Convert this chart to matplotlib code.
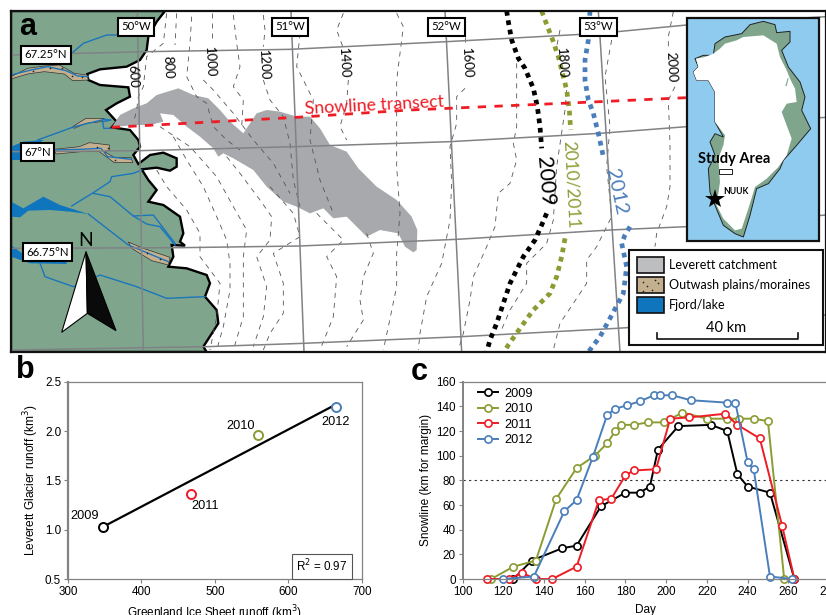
import numpy as np
import matplotlib
matplotlib.use('Agg')
import matplotlib.pyplot as plt
from matplotlib.patches import Polygon, Rectangle

plt.rcParams['font.family'] = ['Liberation Sans', 'DejaVu Sans']

# map outlines (map units = 3 x pixels)
land = [(495,33),(470,65),(445,110),(440,150),(420,180),(380,200),(300,208),(262,222),(265,240),(300,255),
        (385,262),(390,290),(350,310),(318,330),(350,365),(335,382),(390,390),(415,420),(420,440),(400,465),
        (415,492),(450,465),(490,458),(530,475),(530,500),(510,512),(470,503),(425,508),(445,540),(470,570),
        (445,605),(490,615),(540,650),(550,700),(540,725),(555,737),(515,735),(520,770),(505,800),(560,805),
        (620,825),(630,850),(615,890),(650,930),(655,970),(610,1040),(620,1056),(33,1056),(33,33)]
catchment = [(335,382),(360,345),(400,325),(440,310),(470,285),(535,265),(580,285),(625,295),(660,330),(690,365),
             (730,400),(750,370),(770,340),(800,330),(840,335),(890,350),(930,350),(960,385),(990,435),(1040,455),
             (1075,505),(1130,560),(1190,600),(1235,650),(1252,690),(1250,750),(1240,757),(1215,740),(1195,700),
             (1140,690),(1100,710),(1070,680),(1040,650),(1000,655),(970,625),(930,640),(890,620),(850,605),
             (800,560),(760,510),(700,475),(670,460),(655,470),(640,445),(600,410),(560,380),(520,345),(480,340),
             (490,365),(450,375),(400,375)]
outwash_1 = [(33,230),(83,205),(133,198),(178,195),(223,220),(261,225),(265,240),(218,242),(193,222),(133,215),(83,222),(33,237)]
outwash_2 = [(218,380),(258,355),(313,355),(303,365),(258,370),(223,385)]
outwash_3 = [(163,448),(238,440),(268,428),(328,435),(328,450),(313,455),(343,472),(393,472),(398,488),(343,488),(298,455),(243,455),(168,462)]
outwash_4 = [(385,726),(430,745),(510,772),(505,795),(455,782),(395,745)]
outwash_dots = [(100,212),(150,205),(185,205),(215,228),(245,232),(290,440),(325,445),(345,480),(440,760),(480,778)]
fjord_1 = [(33,440),(70,425),(130,420),(110,435),(60,480),(33,480)]
fjord_2 = [(33,605),(70,625),(130,590),(180,615),(265,642),(210,635),(150,630),(85,632),(60,652),(33,650)]
fjord_3 = [(33,735),(80,770),(200,785),(200,792),(90,790),(33,770)]
rivers = [[(215,160),(250,130),(320,105),(360,105)],
          [(33,225),(93,210),(143,200),(198,212),(233,228),(265,230)],
          [(113,420),(223,380),(313,358),(333,360),(308,365),(311,385),(331,385)],
          [(163,450),(238,448),(303,445),(323,470),(393,478)],
          [(215,618),(280,578),(330,545),(335,530),(400,520),(425,510)],
          [(280,580),(330,590),(400,648),(460,645),(525,730)],
          [(400,648),(440,672),(480,680),(525,735)],
          [(265,642),(385,735),(505,785)],
          [(120,790),(135,830),(220,860),(300,825),(410,860),(500,895),(615,890)]]
parallels = [[(33,165),(440,155),(870,148),(1340,125),(1800,100),(2060,75),(2478,50)],
             [(33,455),(420,452),(885,440),(1350,425),(1800,400),(2060,380),(2478,352)],
             [(33,745),(545,743),(900,738),(1370,718),(1830,690),(2060,680),(2478,645)],
             [(33,1050),(620,1040),(910,1030),(1385,1010),(1850,985),(2478,945)]]
meridians = [[(412,33),(430,1056)],[(873,33),(912,1056)],[(1335,33),(1385,1056)],[(1795,33),(1860,1056)]]
contours = [[(500,40),(490,130),(440,170),(430,260),(415,290),(410,330),(400,370)],
            [(530,40),(525,135)],
            [(575,50),(570,130),(560,230),(590,290),(620,310),(640,380),(680,420),(720,450)],
            [(635,40),(635,130)],
            [(610,240),(640,270),(700,340),(760,420),(820,490),(870,580)],
            [(700,45),(710,130),(720,200),(700,260),(730,300),(725,380)],
            [(790,45),(795,90),(790,140)],
            [(790,240),(810,300),(850,350),(870,430),(880,540),(900,620)],
            [(900,100),(890,200),(940,300),(930,420),(960,540),(1000,640)],
            [(1030,40),(1010,90),(1030,145)],
            [(1045,240),(1040,310),(1020,380),(1040,420)],
            [(1190,40),(1210,80),(1190,240),(1190,370),(1190,500),(1200,640),(1190,760),(1190,860),(1165,980),(1150,1050)],
            [(470,510),(500,560),(560,630),(600,700),(600,770),(660,850),(650,950),(630,1050)],
            [(520,410),(560,480),(610,560),(650,650),(680,720),(690,790),(690,870),(670,980),(650,1050)],
            [(480,380),(570,440),(650,530),(700,620),(740,690),(730,770),(730,860),(730,950),(700,1050)],
            [(680,470),(720,520),(780,600),(815,650),(810,720),(770,770),(800,860),(790,950),(760,1040)],
            [(810,560),(880,640),(900,710),(820,760),(850,850),(850,940),(810,1000),(790,1050)],
            [(950,640),(1030,720),(980,770),(1010,830),(1000,950),(960,1050)],
            [(1100,700),(1120,760),(1090,830),(1080,900),(1090,960),(1040,1040)],
            [(1395,110),(1395,130)],
            [(1395,265),(1370,290),(1370,370),(1350,440),(1355,550),(1350,660),(1325,790),(1280,890),(1260,1000),(1255,1050)],
            [(1550,190),(1550,310),(1550,380),(1540,430),(1550,480),(1530,550),(1495,580),(1485,680),(1460,740),(1420,830),(1410,900),(1390,1000),(1375,1050)],
            [(1680,90),(1670,140)],
            [(1700,270),(1695,330),(1670,500),(1660,660),(1640,730),(1580,790),(1580,850),(1530,930),(1500,1000)],
            [(1835,120),(1815,230),(1830,380),(1820,500),(1835,650),(1790,740),(1760,780),(1760,850),(1680,970),(1660,1050)],
            [(2020,35),(2005,110),(2005,150)],
            [(2025,260),(2005,300),(2010,430),(2010,560),(2000,620),(1970,700),(1965,740)]]
snow_2009 = [[(1520,33),(1525,65),(1535,120),(1555,175),(1575,205),(1600,265),(1612,320),(1620,380),(1625,445)],
             [(1640,640),(1625,675),(1605,720),(1570,770),(1530,850),(1510,910),(1490,970),(1470,1020),(1460,1056)]]
snow_2010 = [[(1625,33),(1635,60),(1660,125),(1675,170),(1700,270),(1708,330),(1712,390)],
             [(1695,715),(1685,770),(1670,830),(1650,880),(1600,930),(1560,985),(1525,1035),(1512,1056)]]
snow_2012 = [[(1770,33),(1765,120),(1755,180),(1755,240),(1765,300),(1780,340),(1795,400),(1810,470)],
             [(1890,680),(1875,705),(1865,730),(1880,800),(1870,880),(1830,955),(1800,1010),(1765,1056)]]
transect = [(335,382),(890,352),(1230,330),(1800,305),(2060,293)]
lat_labels = ['67.25°N', '67°N', '66.75°N']
lon_labels = ['50°W', '51°W', '52°W', '53°W']
contour_labels = ['600', '800', '1000', '1200', '1400', '1600', '1800', '2000']

# inset, in units of the inset crop
greenland = [(185,65),(210,38),(250,28),(285,38),(290,62),(330,58),(330,90),(305,115),(325,165),(360,210),(375,255),
             (365,295),(392,350),(350,400),(310,445),(300,470),(265,515),(230,530),(210,610),(190,675),(165,665),
             (130,640),(105,580),(90,540),(85,470),(105,430),(90,390),(105,365),(130,375),(105,330),(105,240),
             (85,205),(50,205),(40,180),(55,165),(45,140),(70,130),(100,130),(105,95),(135,75)]
ice = [(135,95),(170,85),(190,75),(250,70),(290,95),(300,135),(320,175),(330,200),(345,230),(350,270),(320,275),
       (305,300),(320,340),(335,380),(320,430),(295,465),(260,500),(225,525),(205,590),(185,650),(165,655),
       (130,620),(110,580),(120,510),(115,440),(130,400),(135,370),(105,330),(105,240),(85,205),(50,205),
       (40,180),(55,165),(48,140),(75,135),(100,125),(120,110)]
ice_streak = [(323,198),(326,198),(320,222),(316,222)]

# panel b
years = ['2009', '2010', '2011', '2012']
ice_sheet_runoff = [348, 559, 467, 665]
leverett_runoff = [1.03, 1.96, 1.36, 2.24]
fit_x = [348, 660]
fit_y = [1.03, 2.25]

# panel c
day_2009 = [125,134,149,156,168,180,187,192,196,206,222,230,235,240,251,263]
snowline_2009 = [0,15,25,27,59,70,70,75,105,124,125,120,85,75,70,0]
day_2010 = [114,125,136,146,156,165,171,175,178,184,191,199,208,220,230,236,243,250,258]
snowline_2010 = [0,10,15,65,90,100,110,120,125,125,127,127,135,130,130,130,130,128,0]
day_2011 = [112,123,129,136,144,156,167,173,180,184,195,202,211,229,235,246,257,263]
snowline_2011 = [0,0,5,0,0,10,64,65,84,88,89,130,131,134,125,114,43,0]
day_2012 = [120,135,150,156,164,171,175,181,187,194,197,203,212,230,234,240,243,251,262]
snowline_2012 = [0,2,55,64,99,133,138,141,144,149,149,149,145,143,143,95,89,2,0]

black = '#000000'
olive = '#8B9C32'
red = '#EE1C25'
blue = '#4A7EBB'
grey = '#808285'
green = '#7FA68D'
tan = '#C4B08F'
fjord = '#0F75BC'
W, H = 826, 615


def place(x0, y0, x1, y1):
    return fig.add_axes([x0 / W, 1 - y1 / H, (x1 - x0) / W, (y1 - y0) / H])


def poly(ax, pts, color, z, edge='none', lw=0):
    ax.add_patch(Polygon(pts, closed=True, facecolor=color, edgecolor=edge, linewidth=lw, zorder=z))


def line(ax, pts, **kw):
    a = np.array(pts)
    return ax.plot(a[:, 0], a[:, 1], **kw)


fig = plt.figure(figsize=(8.26, 6.15), dpi=100)

# ---- a: map
ax = place(11, 11, 826, 352)
ax.set_xlim(33, 2478)
ax.set_ylim(1056, 33)
ax.set_xticks([])
ax.set_yticks([])
for s in ax.spines.values():
    s.set_linewidth(1.6)
    s.set_color('#111111')
    s.set_zorder(20)

poly(ax, land, green, 1, edge='black', lw=1.7)
poly(ax, catchment, '#A7A9AC', 1.2)
for pts in contours:
    line(ax, pts, color='#555555', lw=0.6, dashes=(6, 6), zorder=1.5)
for pts in (outwash_1, outwash_2, outwash_3, outwash_4):
    poly(ax, pts, tan, 1.6, edge='#333333', lw=0.5)
line(ax, outwash_dots, color='none', marker='o', mfc='#222222', mec='none', ms=1.2, zorder=1.8)
for pts in (fjord_1, fjord_2, fjord_3):
    poly(ax, pts, fjord, 1.6)
for pts in rivers:
    line(ax, pts, color='#1B75BC', lw=1.0, zorder=1.7)
for pts in parallels + meridians:
    line(ax, pts, color=grey, lw=1.1, zorder=2)

for segs, col in ((snow_2009, black), (snow_2010, olive), (snow_2012, blue)):
    for pts in segs:
        line(ax, pts, color=col, lw=3.4, dashes=(1, 1), dash_capstyle='butt', zorder=4)
line(ax, transect, color=red, lw=2.0, dashes=(3.0, 3.0), zorder=5)

map_font = ['Lato', 'DejaVu Sans']
box = dict(facecolor='white', edgecolor='black', linewidth=1.5, boxstyle='square,pad=0.3')
for s, (x, y) in zip(lat_labels, [(138, 165), (112, 456), (143, 757)]):
    ax.text(x, y, s, fontsize=8.2, family=map_font, ha='center', va='center', bbox=box, zorder=6)
for s, (x, y) in zip(lon_labels, [(408, 80), (870, 80), (1340, 80), (1795, 80)]):
    ax.text(x, y, s, fontsize=8.2, family=map_font, ha='center', va='center', bbox=box, zorder=6)
for s, (x, y) in zip(contour_labels, [(400, 228), (505, 203), (628, 185), (790, 195), (1030, 190), (1400, 190), (1685, 190), (2015, 200)]):
    ax.text(x, y, s, fontsize=9.5, family=map_font, rotation=-87, ha='center', va='center', zorder=6)
ax.text(1122, 315, 'Snowline transect', color=red, fontsize=12.8, family=map_font, rotation=3, ha='center', va='center', zorder=6)
ax.text(1635, 545, '2009', color=black, fontsize=15.5, family=map_font, rotation=-85, ha='center', va='center', zorder=6)
ax.text(1712, 555, '2010/2011', color=olive, fontsize=12.5, family=map_font, rotation=-87, ha='center', va='center', zorder=6)
ax.text(1850, 575, '2012', color=blue, fontsize=14.5, family=map_font, rotation=-78, ha='center', va='center', zorder=6)
ax.text(58, 80, 'a', fontsize=22, fontweight='bold', ha='left', va='center', zorder=6,
        family=['Liberation Sans'])

# north arrow
poly(ax, [(258, 755), (185, 997), (262, 940)], 'white', 6, edge='black', lw=0.8)
poly(ax, [(258, 755), (348, 992), (262, 940)], '#0A0A0A', 6, edge='black', lw=0.8)
ax.text(258, 720, 'N', fontsize=14, family=map_font, ha='center', va='center', zorder=6)

# inset
ix = 1230
dx, dy = 2040, 36
ax.add_patch(Rectangle((830 + ix, 55), 398, 667, facecolor='#8FCBEE', edgecolor='#111111', linewidth=1.6, zorder=7))
poly(ax, [(x + dx, y + dy) for x, y in greenland], green, 7.1, edge='#222222', lw=0.7)
poly(ax, [(x + dx, y + dy) for x, y in ice], 'white', 7.2)
poly(ax, [(x + dx, y + dy) for x, y in ice_streak], green, 7.25)
ax.add_patch(Rectangle((926 + ix, 506), 41, 17, facecolor='white', edgecolor='#222222', linewidth=0.7, zorder=7.3))
ax.text(971 + ix, 478, 'Study Area', fontsize=10.5, fontweight='bold', family=map_font, ha='center', va='center', zorder=7.4)
ax.text(940 + ix, 575, 'NUUK', fontsize=6.2, fontweight='bold', family=map_font, ha='left', va='center', zorder=7.4)
ax.plot([915 + ix], [596], marker='*', color='black', ms=15, mew=0, zorder=7.4)

# map key
ax.add_patch(Rectangle((658 + ix, 750), 580, 285, facecolor='white', edgecolor='#111111', linewidth=1.5, zorder=8))
key_names = ['Leverett catchment', 'Outwash plains/moraines', 'Fjord/lake']
key_colors = ['#BCBEC0', tan, fjord]
for s, c, y in zip(key_names, key_colors, [772, 832, 892]):
    ax.add_patch(Rectangle((682 + ix, y), 80, 47, facecolor=c, edgecolor='#111111', linewidth=1.2, zorder=8.1))
    ax.text(778 + ix, y + 24, s, fontsize=9, family=map_font, ha='left', va='center', zorder=8.1)
key_dots_x = [700 + ix, 712 + ix, 725 + ix, 745 + ix, 700 + ix, 735 + ix]
key_dots_y = [845, 858, 870, 850, 872, 840]
ax.plot(key_dots_x, key_dots_y, 'o', color='#222222', ms=1.2, mew=0, zorder=8.2)
ax.plot([740 + ix, 740 + ix, 1165 + ix, 1165 + ix], [1000, 1016, 1016, 1000], color='#111111', lw=1.2, zorder=8.1)
ax.text(948 + ix, 985, '40 km', fontsize=10.5, family=map_font, ha='center', va='center', zorder=8.1)

# ---- b: runoff
ax_b = place(68, 381.7, 361.7, 579)
ax_b.plot(fit_x, fit_y, color='black', lw=1.6, zorder=2)
for x, y, c in zip(ice_sheet_runoff, leverett_runoff, [black, olive, red, blue]):
    ax_b.plot(x, y, 'o', mfc='white', mec=c, mew=1.4, ms=6.5, zorder=3)
ax_b.set_xlim(300, 700)
ax_b.set_ylim(0.5, 2.5)
ax_b.set_xticks([300, 400, 500, 600, 700])
ax_b.set_yticks([0.5, 1.0, 1.5, 2.0, 2.5])
ax_b.tick_params(labelsize=8.4, length=3, width=0.8, color=grey, pad=2)
for s in ax_b.spines.values():
    s.set_color(grey)
    s.set_linewidth(0.9)
ax_b.spines['left'].set_linewidth(1.6)
ax_b.set_xlabel('Greenland Ice Sheet runoff (km$^3$)', fontsize=8.5, labelpad=4)
ax_b.set_ylabel('Leverett Glacier runoff (km$^3$)', fontsize=8.6, labelpad=3)
for s, x, y, ha in [('2009', 322, 1.14, 'center'), ('2010', 535, 2.05, 'center'), ('2011', 487, 1.24, 'center'), ('2012', 664, 2.09, 'center')]:
    ax_b.text(x, y, s, fontsize=9.2, ha=ha, va='center')
ax_b.text(646, 0.63, 'R$^2$ = 0.97', fontsize=8.4, ha='center', va='center',
          bbox=dict(facecolor='white', edgecolor='#555555', linewidth=0.8, boxstyle='square,pad=0.35'))
fig.text(16 / W, 1 - 370 / H, 'b', fontsize=22, fontweight='bold', ha='left', va='center')

# ---- c: snowline
ax_c = place(462.6, 381.7, 829, 579)
ax_c.axhline(80, color='#333333', lw=0.8, dashes=(2, 3), zorder=1)
series = [(day_2009, snowline_2009, black), (day_2010, snowline_2010, olive),
          (day_2011, snowline_2011, red), (day_2012, snowline_2012, blue)]
for (d, v, c), name in zip(series, years):
    ax_c.plot(d, v, '-o', color=c, lw=1.4, mfc='white', mec=c, mew=1.2, ms=5.2, label=name, clip_on=False)
ax_c.set_xlim(100, 280)
ax_c.set_ylim(0, 160)
ax_c.set_xticks(np.arange(100, 281, 20))
ax_c.set_yticks(np.arange(0, 161, 20))
ax_c.tick_params(labelsize=8.4, length=3, width=0.8, color=grey, pad=2)
for s in ax_c.spines.values():
    s.set_color(grey)
    s.set_linewidth(0.9)
ax_c.spines['left'].set_linewidth(1.4)
ax_c.set_xlabel('Day', fontsize=8.5, labelpad=4)
ax_c.set_ylabel('Snowline (km for margin)', fontsize=8.6, labelpad=3)
ax_c.legend(loc='upper left', bbox_to_anchor=(0.042, 0.97), frameon=False, fontsize=9.2, handlelength=1.6,
            labelspacing=0.28, handletextpad=0.5, borderpad=0, borderaxespad=0)
fig.text(411 / W, 1 - 372 / H, 'c', fontsize=22, fontweight='bold', ha='left', va='center')

fig.savefig('out.png', dpi=100)
